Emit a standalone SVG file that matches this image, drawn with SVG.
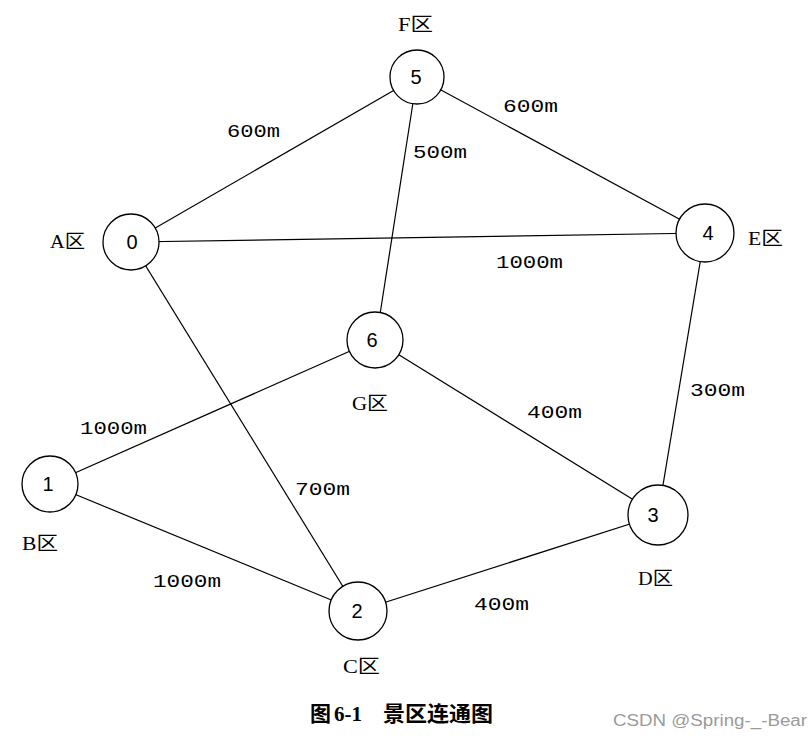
<svg xmlns="http://www.w3.org/2000/svg" width="811" height="743" viewBox="0 0 811 743">
<style>
.edge{stroke:#000;stroke-width:1.2;fill:none}
.node{fill:#fff;stroke:#000;stroke-width:1.3}
.num{font-family:"Liberation Sans","DejaVu Sans",sans-serif;font-size:20px;fill:#000;text-anchor:middle}
.lbl{font-family:"Liberation Serif","Noto Sans CJK SC",serif;font-size:19px;fill:#000}
.w{font-family:"Liberation Mono","DejaVu Sans Mono",monospace;font-size:19px;fill:#000}
.cap{font-family:"Liberation Serif","Noto Sans CJK SC",serif;font-size:21px;font-weight:bold;fill:#000}
.wm{font-family:"Liberation Sans","DejaVu Sans",sans-serif;font-size:16px;fill:#9a9a9a}
</style>
<rect width="811" height="743" fill="#fff"/>
<g id="connectors">
<line class="edge" x1="131" y1="242" x2="417" y2="77"/>
<line class="edge" x1="131" y1="242" x2="705" y2="233"/>
<line class="edge" x1="131" y1="242" x2="358" y2="611"/>
<line class="edge" x1="417" y1="77" x2="705" y2="233"/>
<line class="edge" x1="417" y1="77" x2="376" y2="340"/>
<line class="edge" x1="705" y1="233" x2="658" y2="515"/>
<line class="edge" x1="375" y1="340" x2="50" y2="484"/>
<line class="edge" x1="375" y1="340" x2="658" y2="515"/>
<line class="edge" x1="50" y1="484" x2="358" y2="611"/>
<line class="edge" x1="358" y1="611" x2="658" y2="515"/>
</g>
<g id="edge-labels">
<text class="w" x="227" y="137" textLength="53" lengthAdjust="spacingAndGlyphs">600m</text>
<text class="w" x="413" y="158" textLength="54" lengthAdjust="spacingAndGlyphs">500m</text>
<text class="w" x="503" y="112" textLength="55" lengthAdjust="spacingAndGlyphs">600m</text>
<text class="w" x="496" y="268" textLength="67" lengthAdjust="spacingAndGlyphs">1000m</text>
<text class="w" x="690" y="396" textLength="55" lengthAdjust="spacingAndGlyphs">300m</text>
<text class="w" x="527" y="418" textLength="55" lengthAdjust="spacingAndGlyphs">400m</text>
<text class="w" x="80" y="434" textLength="67" lengthAdjust="spacingAndGlyphs">1000m</text>
<text class="w" x="295" y="495" textLength="55" lengthAdjust="spacingAndGlyphs">700m</text>
<text class="w" x="153" y="587" textLength="68" lengthAdjust="spacingAndGlyphs">1000m</text>
<text class="w" x="474" y="610" textLength="55" lengthAdjust="spacingAndGlyphs">400m</text>
</g>
<g id="node0"><circle class="node" cx="131" cy="242" r="28"/><text class="num" x="132" y="249">0</text><text class="lbl" x="50" y="248" textLength="35" lengthAdjust="spacingAndGlyphs">A区</text></g>
<g id="node1"><circle class="node" cx="50" cy="484" r="28"/><text class="num" x="48" y="491">1</text><text class="lbl" x="22" y="550" textLength="36" lengthAdjust="spacingAndGlyphs">B区</text></g>
<g id="node2"><circle class="node" cx="358" cy="611" r="29"/><text class="num" x="357" y="618">2</text><text class="lbl" x="343" y="673" textLength="37" lengthAdjust="spacingAndGlyphs">C区</text></g>
<g id="node3"><circle class="node" cx="658" cy="515" r="30"/><text class="num" x="653" y="522">3</text><text class="lbl" x="638" y="585" textLength="35" lengthAdjust="spacingAndGlyphs">D区</text></g>
<g id="node4"><circle class="node" cx="705" cy="233" r="29"/><text class="num" x="708" y="240">4</text><text class="lbl" x="748" y="245" textLength="35" lengthAdjust="spacingAndGlyphs">E区</text></g>
<g id="node5"><circle class="node" cx="417" cy="77" r="27"/><text class="num" x="416" y="84">5</text><text class="lbl" x="398" y="31" textLength="35" lengthAdjust="spacingAndGlyphs">F区</text></g>
<g id="node6"><circle class="node" cx="375" cy="340" r="28"/><text class="num" x="372" y="347">6</text><text class="lbl" x="352" y="410" textLength="36" lengthAdjust="spacingAndGlyphs">G区</text></g>
<text class="cap" y="721"><tspan x="310">图</tspan><tspan x="334">6-1</tspan><tspan x="383" textLength="110" lengthAdjust="spacingAndGlyphs">景区连通图</tspan></text>
<text class="wm" x="613" y="726" textLength="194" lengthAdjust="spacingAndGlyphs">CSDN @Spring-_-Bear</text>
</svg>
